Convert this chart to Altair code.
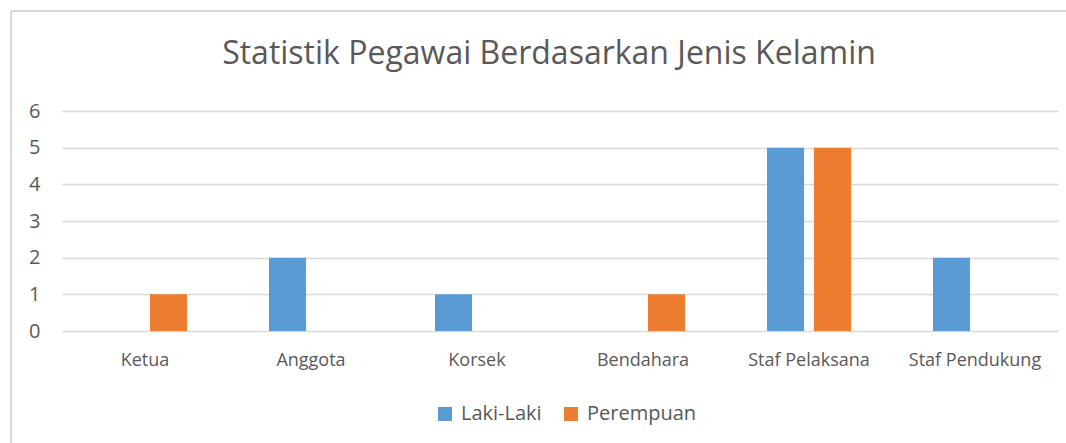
import altair as alt
import pandas as pd

categories = ["Ketua", "Anggota", "Korsek", "Bendahara", "Staf Pelaksana", "Staf Pendukung"]
laki_laki = [0, 2, 1, 0, 5, 2]
perempuan = [1, 0, 0, 1, 5, 0]
series = ["Laki-Laki", "Perempuan"]
colors = ["#5B9BD5", "#ED7D31"]

rows = []
for c, l, p in zip(categories, laki_laki, perempuan):
    rows.append({"Jabatan": c, "Jenis": "Laki-Laki", "Jumlah": l})
    rows.append({"Jabatan": c, "Jenis": "Perempuan", "Jumlah": p})
df = pd.DataFrame(rows)

FONT = "Open Sans"
TXT = "#595959"
GRID = "#D9D9D9"

bars = alt.Chart(df).mark_bar().encode(
    x=alt.X("Jabatan:N", sort=categories,
            scale=alt.Scale(paddingInner=0.494, paddingOuter=0.247),
            axis=alt.Axis(title=None, labelAngle=0, labelFontSize=18, labelColor=TXT,
                          labelFont=FONT, ticks=False, domain=False, labelPadding=20)),
    xOffset=alt.XOffset("Jenis:N", sort=series,
                        scale=alt.Scale(paddingInner=0.21, paddingOuter=0)),
    y=alt.Y("Jumlah:Q", scale=alt.Scale(domain=[0, 6], nice=False),
            axis=alt.Axis(title=None, values=[0, 1, 2, 3, 4, 5, 6], labelFontSize=20,
                          labelColor=TXT, labelFont=FONT, ticks=False, domain=False,
                          labelPadding=22, grid=True, gridColor=GRID, gridWidth=1.5)),
    color=alt.Color("Jenis:N", sort=series,
                    scale=alt.Scale(domain=series, range=colors),
                    legend=alt.Legend(title=None, orient="none", direction="horizontal",
                                      legendX=373, legendY=293, symbolType="square",
                                      symbolSize=196, symbolStrokeWidth=0,
                                      labelFontSize=20, labelFont=FONT, labelColor=TXT,
                                      columnPadding=19, labelOffset=6)),
)

border_v = alt.Chart(df).mark_rule(color=GRID, strokeWidth=2).encode(
    x=alt.value(-51), y=alt.value(-100), y2=alt.value(400)
)
border_h = alt.Chart(df).mark_rule(color=GRID, strokeWidth=2).encode(
    x=alt.value(-51), x2=alt.value(1100), y=alt.value(-100)
)

chart = alt.layer(border_v, border_h, bars).properties(
    width=996, height=220,
    title=alt.TitleParams("Statistik Pegawai Berdasarkan Jenis Kelamin", fontSize=32,
                          font=FONT, fontWeight="normal", color=TXT, anchor="middle",
                          frame="group", baseline="alphabetic", offset=-86, dx=-11),
    autosize=alt.AutoSizeParams(type="none"),
    padding={"left": 62, "top": 111, "right": 8, "bottom": 112},
).configure(background="white", view=alt.ViewConfig(stroke="transparent", strokeWidth=0))

chart.save("out.html", embed_options={"renderer": "svg", "actions": False})
